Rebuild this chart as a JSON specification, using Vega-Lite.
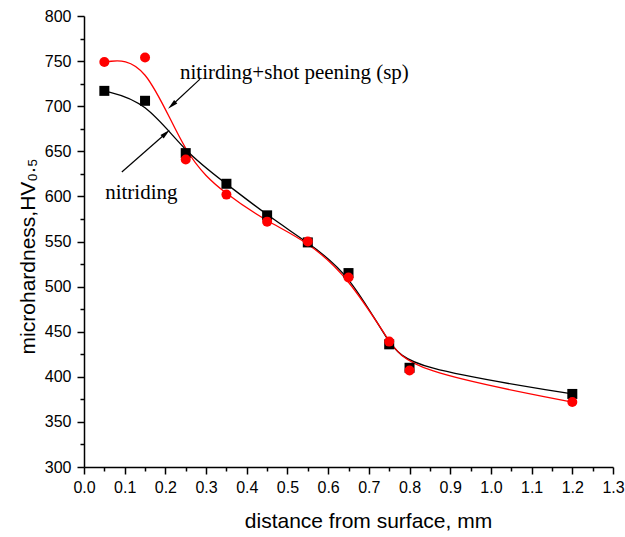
{
  "$schema": "https://vega.github.io/schema/vega-lite/v6.json",
  "width": 529,
  "height": 451,
  "autosize": "none",
  "padding": {"left": 84, "top": 16, "right": 12, "bottom": 70},
  "background": "white",
  "view": {"stroke": null},
  "config": {
    "axis": {
      "grid": false,
      "domainColor": "black",
      "domainWidth": 1.5,
      "tickColor": "black",
      "tickWidth": 1.5,
      "labelFont": "Liberation Sans",
      "labelFontSize": 16,
      "labelColor": "black",
      "titleFont": "Liberation Sans",
      "titleFontSize": 21,
      "titleFontWeight": "normal",
      "titleColor": "black",
      "labelOverlap": false,
      "labelFlush": false
    }
  },
  "datasets": {
    "hardness": [
      {"x": 0.05, "y": 717, "series": "nitriding"},
      {"x": 0.15, "y": 706, "series": "nitriding"},
      {"x": 0.25, "y": 648, "series": "nitriding"},
      {"x": 0.35, "y": 614, "series": "nitriding"},
      {"x": 0.45, "y": 579, "series": "nitriding"},
      {"x": 0.55, "y": 549, "series": "nitriding"},
      {"x": 0.65, "y": 515, "series": "nitriding"},
      {"x": 0.75, "y": 436, "series": "nitriding"},
      {"x": 0.80, "y": 410, "series": "nitriding"},
      {"x": 1.20, "y": 381, "series": "nitriding"},
      {"x": 0.05, "y": 749, "series": "sp"},
      {"x": 0.15, "y": 754, "series": "sp"},
      {"x": 0.25, "y": 641, "series": "sp"},
      {"x": 0.35, "y": 602, "series": "sp"},
      {"x": 0.45, "y": 572, "series": "sp"},
      {"x": 0.55, "y": 550, "series": "sp"},
      {"x": 0.65, "y": 510, "series": "sp"},
      {"x": 0.75, "y": 439, "series": "sp"},
      {"x": 0.80, "y": 407, "series": "sp"},
      {"x": 1.20, "y": 372, "series": "sp"}
    ],
    "labels": [
      {"x": 0.236, "y": 737, "text": "nitirding+shot peening (sp)"},
      {"x": 0.052, "y": 604, "text": "nitriding"}
    ],
    "arrows": [
      {"id": "sp", "x": 0.285, "y": 730, "x2": 0.216, "y2": 701},
      {"id": "nit", "x": 0.093, "y": 627, "x2": 0.2015, "y2": 670}
    ]
  },
  "encoding": {
    "x": {
      "field": "x",
      "type": "quantitative",
      "scale": {"domain": [0, 1.3], "nice": false, "zero": false},
      "axis": {
        "title": "distance from surface, mm",
        "values": [0, 0.05, 0.1, 0.15, 0.2, 0.25, 0.3, 0.35, 0.4, 0.45, 0.5, 0.55, 0.6, 0.65, 0.7, 0.75, 0.8, 0.85, 0.9, 0.95, 1, 1.05, 1.1, 1.15, 1.2, 1.25, 1.3],
        "labelExpr": "abs(datum.value*10-round(datum.value*10))<0.001 ? format(datum.value, '.1f') : ''",
        "tickSize": {"condition": {"test": "abs(datum.value*10-round(datum.value*10))<0.001", "value": 7}, "value": 4},
        "labelPadding": 5,
        "titlePadding": 15,
        "titleX": 284
      }
    },
    "y": {
      "field": "y",
      "type": "quantitative",
      "scale": {"domain": [300, 800], "nice": false, "zero": false},
      "axis": {
        "title": "microhardness,HV₀.₅",
        "values": [300, 325, 350, 375, 400, 425, 450, 475, 500, 525, 550, 575, 600, 625, 650, 675, 700, 725, 750, 775, 800],
        "labelExpr": "datum.value % 50 == 0 ? format(datum.value, 'd') : ''",
        "tickSize": {"condition": {"test": "datum.value % 50 == 0", "value": 7}, "value": 4},
        "labelPadding": 6,
        "titlePadding": 6,
        "titleY": 240
      }
    }
  },
  "layer": [
    {
      "data": {"name": "hardness"},
      "transform": [{"filter": "datum.series == 'nitriding'"}],
      "mark": {"type": "line", "interpolate": "basis", "color": "black", "strokeWidth": 1.3}
    },
    {
      "data": {"name": "hardness"},
      "transform": [{"filter": "datum.series == 'sp'"}],
      "mark": {"type": "line", "interpolate": "basis", "color": "#ff0000", "strokeWidth": 1.3}
    },
    {
      "data": {"name": "hardness"},
      "transform": [{"filter": "datum.series == 'nitriding'"}],
      "mark": {"type": "point", "shape": "square", "filled": true, "color": "black", "size": 100, "opacity": 1}
    },
    {
      "data": {"name": "hardness"},
      "transform": [{"filter": "datum.series == 'sp'"}],
      "mark": {"type": "point", "shape": "circle", "filled": true, "color": "#ff0000", "size": 100, "opacity": 1}
    },
    {
      "data": {"name": "labels"},
      "mark": {"type": "text", "align": "left", "baseline": "middle", "font": "Liberation Serif", "fontSize": 21, "color": "black"},
      "encoding": {"text": {"field": "text"}}
    },
    {
      "data": {"name": "arrows"},
      "mark": {"type": "rule", "color": "black", "strokeWidth": 1.2},
      "encoding": {"x2": {"field": "x2"}, "y2": {"field": "y2"}}
    },
    {
      "data": {"name": "arrows"},
      "transform": [{"filter": "datum.id == 'sp'"}],
      "mark": {"type": "point", "shape": "M0,-1L0.45,1L-0.45,1Z", "filled": true, "color": "black", "size": 110, "opacity": 1, "angle": 227},
      "encoding": {"x": {"field": "x2", "type": "quantitative"}, "y": {"field": "y2", "type": "quantitative"}}
    },
    {
      "data": {"name": "arrows"},
      "transform": [{"filter": "datum.id == 'nit'"}],
      "mark": {"type": "point", "shape": "M0,-1L0.45,1L-0.45,1Z", "filled": true, "color": "black", "size": 110, "opacity": 1, "angle": 48},
      "encoding": {"x": {"field": "x2", "type": "quantitative"}, "y": {"field": "y2", "type": "quantitative"}}
    }
  ]
}
